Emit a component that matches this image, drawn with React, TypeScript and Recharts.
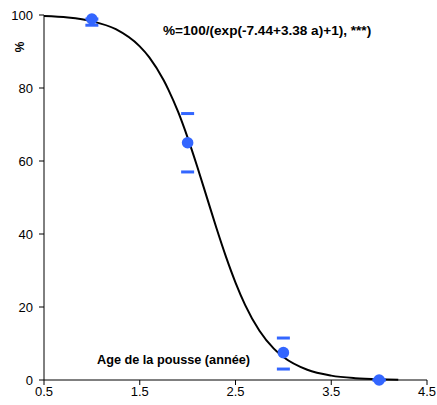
import { ComposedChart, Line, Scatter, XAxis, YAxis } from 'recharts';

// fitted curve
const curveAge = [0.5, 0.75, 1, 1.25, 1.5, 1.6, 1.75, 1.8, 1.9, 2, 2.1, 2.2, 2.3, 2.4, 2.5, 2.6, 2.75, 2.9, 3, 3.25, 3.5, 3.75, 4, 4.2];
const curvePct = [99.7, 99.3, 98.3, 96.1, 91.4, 88.4, 82.1, 79.5, 73.5, 66.4, 58.5, 50.1, 41.7, 33.8, 26.7, 20.6, 13.5, 8.6, 6.3, 2.8, 1.2, 0.5, 0.2, 0.1];

// observed means and their error limits
const obsAge = [1, 2, 3, 4];
const obsPct = [98.9, 65, 7.5, 0];
const upperPct = [98.9, 73, 11.5, 0];
const lowerPct = [97.2, 57, 3, 0];

const xTicks = [0.5, 1.5, 2.5, 3.5, 4.5];
const yTicks = [0, 20, 40, 60, 80, 100];

const curve = curveAge.map((a, i) => ({ a, pct: curvePct[i] }));
const obs = obsAge.map((a, i) => ({ a, pct: obsPct[i] }));
const upper = obsAge.map((a, i) => ({ a, pct: upperPct[i] }));
const lower = obsAge.map((a, i) => ({ a, pct: lowerPct[i] }));

const BLUE = '#3366FF';
const font = 'Arial, "Liberation Sans", sans-serif';

const Cap = (props: any) => {
  const { cx, cy } = props;
  return <line x1={cx - 6.5} x2={cx + 6.5} y1={cy} y2={cy} stroke={BLUE} strokeWidth={3} />;
};

const Dot = (props: any) => {
  const { cx, cy } = props;
  return <circle cx={cx} cy={cy} r={5.8} fill={BLUE} />;
};

export default function App() {
  const tick = { fill: '#000', fontSize: 13, fontFamily: font };
  return (
    <div style={{ position: 'absolute', left: 0, top: 0, width: 437, height: 405, background: '#fff' }}>
      <ComposedChart width={437} height={405} margin={{ top: 15, right: 10, bottom: 5, left: 4 }}>
        <XAxis
          type="number"
          dataKey="a"
          domain={[0.5, 4.5]}
          ticks={xTicks}
          tickFormatter={(v: number) => v.toFixed(1)}
          tick={tick}
          tickSize={5}
          height={20}
          stroke="#000"
          interval={0}
        />
        <YAxis
          type="number"
          dataKey="pct"
          domain={[0, 100]}
          ticks={yTicks}
          tick={tick}
          tickSize={5}
          tickMargin={6}
          width={40}
          stroke="#000"
          interval={0}
        />
        <Line data={curve} dataKey="pct" type="monotone" stroke="#000" strokeWidth={2} dot={false} isAnimationActive={false} />
        <Scatter data={upper} dataKey="pct" shape={Cap} isAnimationActive={false} />
        <Scatter data={lower} dataKey="pct" shape={Cap} isAnimationActive={false} />
        <Scatter data={obs} dataKey="pct" shape={Dot} isAnimationActive={false} />
      </ComposedChart>
      <div style={{ position: 'absolute', left: 163, top: 23, fontFamily: font, fontWeight: 'bold', fontSize: 13.6, whiteSpace: 'nowrap' }}>
        %=100/(exp(-7.44+3.38 a)+1), ***)
      </div>
      <div style={{ position: 'absolute', left: 97, top: 353, fontFamily: font, fontWeight: 'bold', fontSize: 12.7, whiteSpace: 'nowrap' }}>
        Age de la pousse (année)
      </div>
      <div style={{ position: 'absolute', left: 15, top: 40, fontFamily: font, fontWeight: 'bold', fontSize: 12, transform: 'rotate(-90deg)', transformOrigin: 'center' }}>
        %
      </div>
    </div>
  );
}
